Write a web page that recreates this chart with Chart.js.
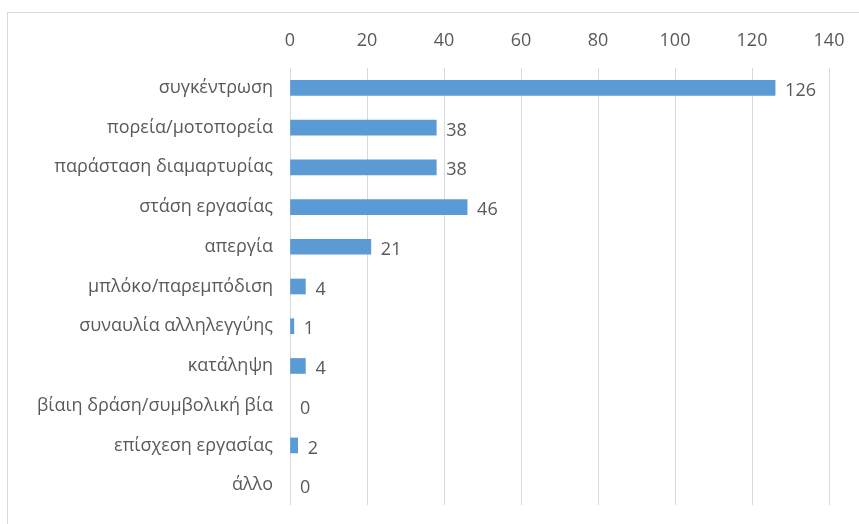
<!DOCTYPE html>
<html>
<head>
<meta charset="utf-8">
<script src="https://cdn.jsdelivr.net/npm/chart.js@4"></script>
<style>
    html, body { margin: 0; padding: 0; background: #ffffff; overflow: hidden; }
    .frame {
        position: absolute; left: 7px; top: 12px;
        width: 900px; height: 600px;
        border: 1px solid #d9d9d9;
    }
    .wrap { position: absolute; left: 0; top: 0; width: 859px; height: 524px; }
</style>
</head>
<body>
<div class="frame"></div>
<div class="wrap"><canvas id="barChart"></canvas></div>
<script>
// Κατηγορίες και τιμές
const categories = [
    'συγκέντρωση',
    'πορεία/μοτοπορεία',
    'παράσταση διαμαρτυρίας',
    'στάση εργασίας',
    'απεργία',
    'μπλόκο/παρεμπόδιση',
    'συναυλία αλληλεγγύης',
    'κατάληψη',
    'βίαιη δράση/συμβολική βία',
    'επίσχεση εργασίας',
    'άλλο'
];
const values = [126, 38, 38, 46, 21, 4, 1, 4, 0, 2, 0];
const xTicks = [0, 20, 40, 60, 80, 100, 120, 140];

const textColor = '#595959';
const fontFamily = "'Open Sans', 'Noto Sans', sans-serif";

// Ετικέτες τιμών δεξιά από τις μπάρες
const valueLabels = {
    id: 'valueLabels',
    afterDatasetsDraw(chart) {
        const ctx = chart.ctx;
        const meta = chart.getDatasetMeta(0);
        ctx.save();
        ctx.fillStyle = textColor;
        ctx.font = '18px ' + fontFamily;
        ctx.textAlign = 'left';
        ctx.textBaseline = 'middle';
        meta.data.forEach(function(bar, i) {
            ctx.fillText(String(values[i]), bar.x + 10, bar.y + 3);
        });
        ctx.restore();
    }
};

document.addEventListener('DOMContentLoaded', function() {
    const ctx = document.getElementById('barChart');
    new Chart(ctx, {
        type: 'bar',
        data: {
            labels: categories,
            datasets: [{
                data: values,
                backgroundColor: values.map(function(v) { return v > 0 ? '#5B9BD5' : 'rgba(0,0,0,0)'; }),
                barThickness: 15
            }]
        },
        options: {
            indexAxis: 'y',
            responsive: true,
            maintainAspectRatio: false,
            animation: false,
            layout: {
                padding: { left: 0, right: 30, top: 0, bottom: 19 }
            },
            plugins: {
                legend: { display: false },
                tooltip: { enabled: false }
            },
            scales: {
                x: {
                    position: 'top',
                    min: 0,
                    max: 140,
                    afterBuildTicks: function(scale) {
                        scale.ticks = xTicks.map(function(v) { return { value: v }; });
                    },
                    afterFit: function(scale) {
                        scale.height = 68;
                        scale.paddingLeft = 0;
                        scale.paddingRight = 0;
                    },
                    grid: {
                        color: '#d9d9d9',
                        lineWidth: 1,
                        drawTicks: false
                    },
                    border: { display: false },
                    ticks: {
                        color: textColor,
                        padding: 16,
                        font: { size: 18, family: fontFamily }
                    }
                },
                y: {
                    afterFit: function(scale) {
                        scale.width = 290;
                        scale.paddingTop = 0;
                        scale.paddingBottom = 0;
                    },
                    grid: { display: false, drawTicks: false },
                    border: { display: false },
                    ticks: {
                        color: textColor,
                        padding: 17,
                        font: { size: 18, family: fontFamily }
                    }
                }
            }
        },
        plugins: [valueLabels]
    });
});
</script>
</body>
</html>
